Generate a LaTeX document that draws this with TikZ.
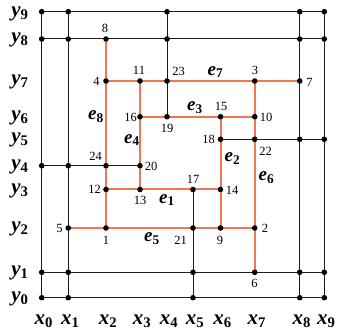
\documentclass[tikz,border=0pt]{standalone}
\usepackage{fontspec}
\setmainfont{Liberation Serif}[BoldItalicFont={Liberation Serif Bold Italic}]
\definecolor{orng}{RGB}{240,120,80}
\definecolor{blk}{RGB}{30,28,28}
\begin{document}
\begin{tikzpicture}[x=1pt,y=-1pt,
  bl/.style={draw=blk,line width=1pt},
  og/.style={draw=orng,line width=2pt},
  dot/.style={circle,fill=black,inner sep=0pt,minimum size=5.6pt},
  num/.style={font=\fontsize{12.5}{13}\selectfont,inner sep=0pt},
  ax/.style={font=\fontsize{21}{21}\selectfont\bfseries\itshape,inner sep=0pt},
  el/.style={font=\fontsize{19}{19}\selectfont\bfseries\itshape,inner sep=0pt}]
\useasboundingbox (0,0) rectangle (337,336);
\foreach \i/\xv in {0/41.7,1/68.3,2/106,3/140,4/167,5/193,6/220.5,7/254.7,8/299.7,9/324.3}{
  \foreach \j/\yv in {0/297.7,1/272.3,2/228,3/189.5,4/165.7,5/139.3,6/116.7,7/81,8/39,9/11.7}{
    \coordinate (g\i\j) at (\xv,\yv);
  }
}
% black lines
\draw[bl] (g00)--(g09) (g10)--(g19) (g80)--(g89) (g90)--(g99);
\draw[bl] (g00)--(g90) (g01)--(g91) (g08)--(g98) (g09)--(g99);
\draw[bl] (g04)--(g34) (g65)--(g95) (g49)--(g46) (g53)--(g50);
% orange lines
\draw[og] (g28)--(g22) (g27)--(g87) (g37)--(g33) (g36)--(g76)
          (g66)--(g62) (g77)--(g71) (g23)--(g63) (g12)--(g72);
% dots
\foreach \p in {g09,g19,g49,g89,g99, g08,g18,g28,g48,g88,g98,
  g27,g37,g47,g77,g87, g36,g46,g66,g76, g65,g75,g85,g95,
  g04,g14,g24,g34, g23,g33,g53,g63, g12,g22,g52,g62,g72,
  g01,g11,g51,g71,g81,g91, g00,g10,g50,g80,g90}
  \node[dot] (d\p) at (\p) {};
% number labels
\node[num] (n8) at (105,28) {8};
\node[num] (n4) at (96.5,81) {4};
\node[num] (n11) at (139,70.5) {11};
\node[num] (n23) at (178.5,71.5) {23};
\node[num] (n3) at (255,70.5) {3};
\node[num] (n7) at (309.5,82.5) {7};
\node[num] (n15) at (221,106) {15};
\node[num] (n10) at (266,117) {10};
\node[num] (n16) at (130.5,117) {16};
\node[num] (n19) at (167,128) {19};
\node[num] (n18) at (208.5,139.5) {18};
\node[num] (n22) at (265.5,151) {22};
\node[num] (n24) at (95.5,156) {24};
\node[num] (n20) at (151,166) {20};
\node[num] (n12) at (94.5,189.5) {12};
\node[num] (n13) at (140,200.5) {13};
\node[num] (n17) at (193,179) {17};
\node[num] (n14) at (232,190.5) {14};
\node[num] (n5) at (59.5,228) {5};
\node[num] (n1) at (106,240) {1};
\node[num] (n21) at (180.5,240) {21};
\node[num] (n9) at (220,240.5) {9};
\node[num] (n2) at (265,228.5) {2};
\node[num] (n6) at (254.5,283.5) {6};
% edge labels
\node[el] (e1) at (167,200) {e\textsubscript{\upshape 1}};
\node[el] (e2) at (232.5,158.5) {e\textsubscript{\upshape 2}};
\node[el] (e3) at (195,107.5) {e\textsubscript{\upshape 3}};
\node[el] (e4) at (132,140) {e\textsubscript{\upshape 4}};
\node[el] (e5) at (152,238.5) {e\textsubscript{\upshape 5}};
\node[el] (e6) at (266.5,178) {e\textsubscript{\upshape 6}};
\node[el] (e7) at (215.5,72) {e\textsubscript{\upshape 7}};
\node[el] (e8) at (96,117) {e\textsubscript{\upshape 8}};
% axis labels
\foreach \j/\yv in {0/298.7,1/273.3,2/229,3/190.5,4/166.7,5/140.3,6/117.7,7/82,8/40,9/14}
  \node[ax] (ly\j) at (20,\yv) {y\textsubscript{\upshape\j}};
\foreach \i/\xv in {0/41.7,1/68.3,2/106,3/140,4/167,5/193,6/220.5,7/254.7,8/299.7,9/324.3}
  \node[ax] (lx\i) at (\xv+2,321) {x\textsubscript{\upshape\i}};
\end{tikzpicture}
\end{document}
